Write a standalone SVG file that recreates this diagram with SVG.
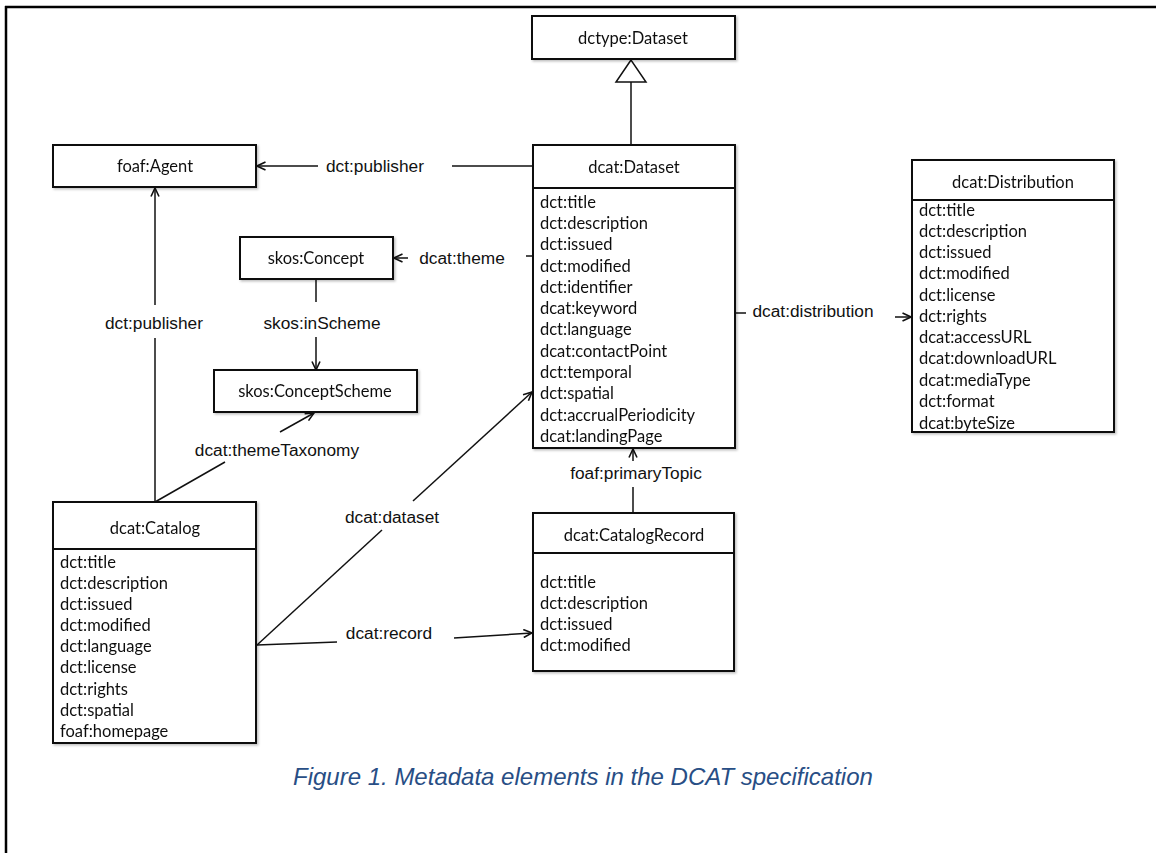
<svg xmlns="http://www.w3.org/2000/svg" width="1156" height="853" viewBox="0 0 1156 853">
<style>
.box{fill:#fff;stroke:#111;stroke-width:2}
.div{stroke:#111;stroke-width:2}
.hd{font-family:Lato,"Open Sans",sans-serif;font-size:16.5px;text-anchor:middle;fill:#111}
.at{font-family:Lato,"Open Sans",sans-serif;font-size:16.5px;fill:#111}
.lb{font-family:"Liberation Sans",Arial,sans-serif;font-size:17.3px;text-anchor:middle;fill:#111}
.ln{stroke:#111;stroke-width:1.5;fill:none}
.cap{font-family:"Liberation Sans",Arial,sans-serif;font-size:24px;font-style:italic;fill:#284e85}
</style>
<defs>
<marker id="arr" viewBox="0 0 10 10" refX="9.5" refY="5" markerWidth="10" markerHeight="10" markerUnits="userSpaceOnUse" orient="auto">
<path d="M1,1 L9.5,5 L1,9" fill="none" stroke="#111" stroke-width="1.6"/>
</marker>
<filter id="sh" x="-5%" y="-5%" width="115%" height="115%">
<feDropShadow dx="1.5" dy="1.5" stdDeviation="1" flood-color="#000" flood-opacity="0.25"/>
</filter>
</defs>
<rect width="1156" height="853" fill="#fff"/>
<g id="frame">
<line x1="5" y1="7" x2="1156" y2="7" stroke="#000" stroke-width="2.5"/>
<line x1="6" y1="6" x2="6" y2="853" stroke="#000" stroke-width="2.5"/>
</g>
<g id="connectors">
<line class="ln" x1="452" y1="166" x2="533" y2="166"/>
<line class="ln" x1="318" y1="166" x2="257" y2="166" marker-end="url(#arr)"/>
<text class="lb" x="375" y="172">dct:publisher</text>
<line class="ln" x1="631" y1="145" x2="631" y2="82"/>
<polygon points="631,60 616,82 646,82" fill="#fff" stroke="#111" stroke-width="1.5"/>
<line class="ln" x1="408" y1="258" x2="394" y2="258" marker-end="url(#arr)"/>
<text class="lb" x="462" y="264">dcat:theme</text>
<line class="ln" x1="526" y1="256" x2="533" y2="256"/>
<line class="ln" x1="316" y1="279" x2="316" y2="302"/>
<text class="lb" x="322" y="329">skos:inScheme</text>
<line class="ln" x1="316" y1="337" x2="316" y2="370" marker-end="url(#arr)"/>
<line class="ln" x1="155" y1="502" x2="225" y2="462"/>
<text class="lb" x="277" y="456">dcat:themeTaxonomy</text>
<line class="ln" x1="280" y1="432" x2="314" y2="413" marker-end="url(#arr)"/>
<line class="ln" x1="155" y1="502" x2="155" y2="338"/>
<text class="lb" x="154" y="329">dct:publisher</text>
<line class="ln" x1="155" y1="305" x2="155" y2="188" marker-end="url(#arr)"/>
<line class="ln" x1="257" y1="645" x2="382" y2="530"/>
<text class="lb" x="392" y="523">dcat:dataset</text>
<line class="ln" x1="413" y1="501" x2="532" y2="392" marker-end="url(#arr)"/>
<line class="ln" x1="257" y1="645" x2="337" y2="642"/>
<text class="lb" x="389" y="639">dcat:record</text>
<line class="ln" x1="454" y1="638" x2="532" y2="633" marker-end="url(#arr)"/>
<line class="ln" x1="633" y1="513" x2="633" y2="487"/>
<text class="lb" x="636" y="479">foaf:primaryTopic</text>
<line class="ln" x1="633" y1="461" x2="633" y2="449" marker-end="url(#arr)"/>
<line class="ln" x1="735" y1="313" x2="746" y2="313"/>
<text class="lb" x="813" y="317">dcat:distribution</text>
<line class="ln" x1="895" y1="317" x2="911" y2="317" marker-end="url(#arr)"/>
</g>
<g id="dctype-Dataset" filter="url(#sh)">
<rect class="box" x="532" y="16" width="203" height="43"/>
<text class="hd" x="633" y="44">dctype:Dataset</text>
</g>
<g id="foaf-Agent" filter="url(#sh)">
<rect class="box" x="53" y="145" width="203" height="42"/>
<text class="hd" x="155" y="172">foaf:Agent</text>
</g>
<g id="skos-Concept" filter="url(#sh)">
<rect class="box" x="240" y="237" width="153" height="42"/>
<text class="hd" x="316" y="264">skos:Concept</text>
</g>
<g id="skos-ConceptScheme" filter="url(#sh)">
<rect class="box" x="214" y="370" width="203" height="42"/>
<text class="hd" x="315" y="397">skos:ConceptScheme</text>
</g>
<g id="dcat-Dataset" filter="url(#sh)">
<rect class="box" x="533" y="145" width="202" height="303"/>
<line class="div" x1="533" y1="188" x2="735" y2="188"/>
<text class="hd" x="634" y="173">dcat:Dataset</text>
<text class="at" x="540" y="208">dct:title</text>
<text class="at" x="540" y="229">dct:description</text>
<text class="at" x="540" y="250">dct:issued</text>
<text class="at" x="540" y="272">dct:modified</text>
<text class="at" x="540" y="293">dct:identifier</text>
<text class="at" x="540" y="314">dcat:keyword</text>
<text class="at" x="540" y="335">dct:language</text>
<text class="at" x="540" y="357">dcat:contactPoint</text>
<text class="at" x="540" y="378">dct:temporal</text>
<text class="at" x="540" y="399">dct:spatial</text>
<text class="at" x="540" y="421">dct:accrualPeriodicity</text>
<text class="at" x="540" y="442">dcat:landingPage</text>
</g>
<g id="dcat-Distribution" filter="url(#sh)">
<rect class="box" x="912" y="160" width="202" height="272"/>
<line class="div" x1="912" y1="200" x2="1114" y2="200"/>
<text class="hd" x="1013" y="188">dcat:Distribution</text>
<text class="at" x="919" y="216">dct:title</text>
<text class="at" x="919" y="237">dct:description</text>
<text class="at" x="919" y="258">dct:issued</text>
<text class="at" x="919" y="279">dct:modified</text>
<text class="at" x="919" y="301">dct:license</text>
<text class="at" x="919" y="322">dct:rights</text>
<text class="at" x="919" y="343">dcat:accessURL</text>
<text class="at" x="919" y="364">dcat:downloadURL</text>
<text class="at" x="919" y="386">dcat:mediaType</text>
<text class="at" x="919" y="407">dct:format</text>
<text class="at" x="919" y="429">dcat:byteSize</text>
</g>
<g id="dcat-Catalog" filter="url(#sh)">
<rect class="box" x="53" y="502" width="203" height="241"/>
<line class="div" x1="53" y1="549" x2="256" y2="549"/>
<text class="hd" x="155" y="534">dcat:Catalog</text>
<text class="at" x="60" y="568">dct:title</text>
<text class="at" x="60" y="589">dct:description</text>
<text class="at" x="60" y="610">dct:issued</text>
<text class="at" x="60" y="631">dct:modified</text>
<text class="at" x="60" y="652">dct:language</text>
<text class="at" x="60" y="673">dct:license</text>
<text class="at" x="60" y="695">dct:rights</text>
<text class="at" x="60" y="716">dct:spatial</text>
<text class="at" x="60" y="737">foaf:homepage</text>
</g>
<g id="dcat-CatalogRecord" filter="url(#sh)">
<rect class="box" x="533" y="513" width="201" height="158"/>
<line class="div" x1="533" y1="553" x2="734" y2="553"/>
<text class="hd" x="634" y="541">dcat:CatalogRecord</text>
<text class="at" x="540" y="588">dct:title</text>
<text class="at" x="540" y="609">dct:description</text>
<text class="at" x="540" y="630">dct:issued</text>
<text class="at" x="540" y="651">dct:modified</text>
</g>
<text id="caption" class="cap" x="293" y="785">Figure 1. Metadata elements in the DCAT specification</text>
</svg>
